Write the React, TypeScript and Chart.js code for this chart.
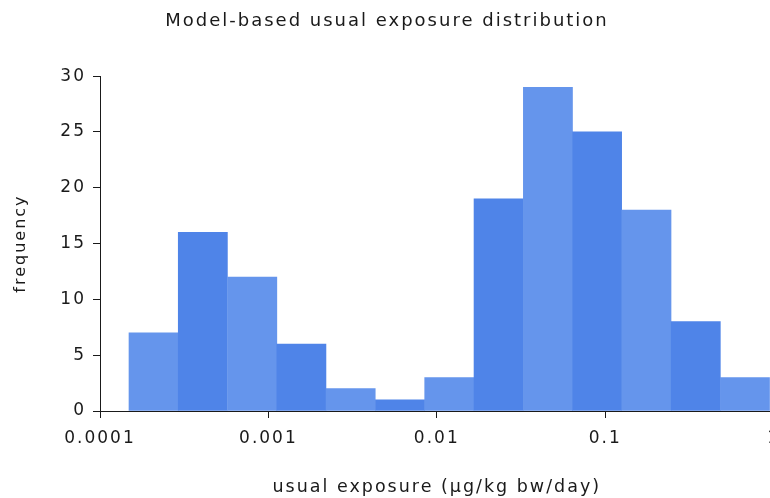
import React, { useEffect, useRef } from "react";
import { Chart, registerables } from "chart.js";

Chart.register(...registerables);

// Histogram bin centres (µg/kg bw/day)
const binCenters = [
  0.000208, 0.000408, 0.000802, 0.00157, 0.00308, 0.00605, 0.01186,
  0.02328, 0.0457, 0.0895, 0.1758, 0.345, 0.676,
];
const frequencies = [7, 16, 12, 6, 2, 1, 3, 19, 29, 25, 18, 8, 3];
const xTickValues = [0.0001, 0.001, 0.01, 0.1, 1];
const xTickLabels = ["0.0001", "0.001", "0.01", "0.1", "1"];
const yTickLabels = ["0", "5", "10", "15", "20", "25", "30"];

const LIGHT = "#6595EC";
const DARK = "#4F84E8";
const TEXT = "#1a1a1a";
const FONT = "'DejaVu Sans', sans-serif";

const spacingPlugin = {
  id: "letterSpacing",
  beforeLayout(chart: any) {
    chart.ctx.letterSpacing = "2px";
  },
  beforeDraw(chart: any) {
    chart.ctx.letterSpacing = "2px";
  },
};

export default function App() {
  const ref = useRef<HTMLCanvasElement | null>(null);

  useEffect(() => {
    if (!ref.current) return;
    const chart = new Chart(ref.current, {
      type: "bar",
      data: {
        datasets: [
          {
            data: binCenters.map((x, i) => ({ x, y: frequencies[i] })),
            backgroundColor: frequencies.map((_, i) => (i % 2 === 0 ? LIGHT : DARK)),
            borderWidth: 0,
            barPercentage: 1,
            categoryPercentage: 1,
          },
        ],
      },
      plugins: [spacingPlugin],
      options: {
        responsive: false,
        animation: false,
        devicePixelRatio: 1,
        layout: { padding: { left: 0, right: 16, top: 0, bottom: 0 } },
        plugins: {
          legend: { display: false },
          tooltip: { enabled: false },
          title: {
            display: true,
            text: "Model-based usual exposure distribution",
            color: TEXT,
            font: { family: FONT, size: 18, weight: "normal" },
            padding: { top: 10.5, bottom: 44 },
          },
        },
        scales: {
          x: {
            type: "logarithmic",
            min: 0.0001,
            max: 1,
            offset: false,
            afterBuildTicks: (scale: any) => {
              scale.ticks = xTickValues.map((v) => ({ value: v }));
            },
            afterFit: (scale: any) => {
              scale.height = 87;
            },
            grid: {
              offset: false,
              drawOnChartArea: false,
              drawTicks: true,
              tickLength: 7,
              color: TEXT,
            },
            border: { display: true, color: TEXT, width: 1 },
            ticks: {
              autoSkip: false,
              maxRotation: 0,
              padding: 10,
              color: TEXT,
              font: { family: FONT, size: 17 },
              callback: (_v: any, i: number) => xTickLabels[i],
            },
            title: {
              display: true,
              text: "usual exposure (µg/kg bw/day)",
              color: TEXT,
              font: { family: FONT, size: 17.5 },
              padding: { top: 0, bottom: 0 },
            },
          },
          y: {
            min: 0,
            max: 30,
            afterFit: (scale: any) => {
              scale.width = 100;
            },
            ticks: {
              stepSize: 5,
              padding: 7,
              color: TEXT,
              font: { family: FONT, size: 17 },
              callback: (_v: any, i: number) => yTickLabels[i],
            },
            grid: {
              drawOnChartArea: false,
              drawTicks: true,
              tickLength: 7,
              color: TEXT,
            },
            border: { display: true, color: TEXT, width: 1 },
            title: {
              display: true,
              text: "frequency",
              color: TEXT,
              font: { family: FONT, size: 16 },
              padding: { top: 11, bottom: 0 },
            },
          },
        },
      },
    } as any);
    return () => chart.destroy();
  }, []);

  return (
    <div style={{ position: "fixed", left: 0, top: 0, width: 770, height: 498, overflow: "hidden", background: "#fff" }}>
      <canvas ref={ref} width={790} height={498} style={{ display: "block", width: 790, height: 498 }} />
    </div>
  );
}
